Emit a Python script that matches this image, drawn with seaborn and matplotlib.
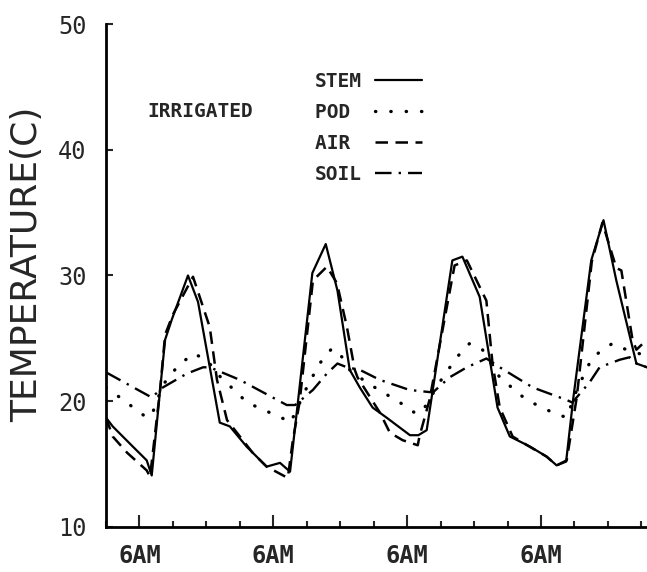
import matplotlib
matplotlib.use("Agg")
import matplotlib.pyplot as plt
import seaborn as sns

# hours from midnight of day 1, temperature in C
stem_hours = [0, 1.2, 4.8, 7.3, 8.2, 9.7, 10.6, 11.8, 14.7, 16.5, 20.4, 22.2,
              25.2, 28.8, 31.2, 33.0, 34.4, 37.0, 39.4, 41.5, 43.7, 45.5, 47.8,
              50.3, 54.5, 56.0, 57.5, 62.1, 63.9, 67.0, 70.2, 72.4, 76.0, 79.0,
              80.8, 82.5, 83.8, 87.0, 89.2, 91.5, 95.1, 97.0]
stem_temp = [18.7, 18.0, 16.4, 15.3, 14.1, 20.9, 24.9, 26.5, 30.0, 27.9, 18.3, 18.0,
             16.4, 14.8, 15.1, 14.4, 19.9, 30.2, 32.5, 28.8, 22.5, 21.1, 19.5,
             18.7, 17.3, 17.3, 17.7, 31.2, 31.5, 28.3, 19.5, 17.2, 16.4, 15.6,
             14.9, 15.2, 20.3, 31.2, 34.4, 29.6, 23.0, 22.7]

air_hours = [0, 1.2, 3.8, 7.3, 7.9, 9.7, 10.6, 12.0, 15.6, 18.6, 19.9, 21.7,
             26.3, 28.8, 32.6, 33.5, 34.7, 37.1, 39.6, 41.4, 43.2, 44.6, 45.1,
             49.1, 50.9, 53.2, 55.9, 56.2, 58.0, 62.5, 64.7, 68.2, 69.3, 70.6,
             72.9, 75.9, 79.0, 80.8, 82.6, 84.4, 87.1, 89.0, 91.5, 92.4, 94.4,
             95.1, 97.0]
air_temp = [18.7, 17.2, 15.9, 14.5, 14.0, 20.9, 25.3, 26.9, 29.9, 25.9, 21.7, 18.5,
            15.9, 14.8, 13.9, 16.9, 19.9, 29.6, 30.7, 29.4, 25.9, 22.5, 21.9,
            19.1, 17.5, 16.9, 16.5, 17.2, 20.1, 30.8, 31.2, 28.0, 23.0, 19.5,
            17.2, 16.4, 15.6, 14.9, 15.3, 20.3, 31.1, 34.2, 30.6, 30.4, 24.9,
            24.1, 24.9]

pod_hours = [0, 2.5, 7.3, 8.2, 10.2, 12.7, 15.6, 18.1, 19.9, 25.3, 26.3, 32.4,
             33.1, 36.0, 38.3, 40.5, 41.9, 43.7, 46.7, 52.7, 55.3, 56.6, 59.8,
             62.9, 65.2, 67.5, 70.6, 75.4, 80.1, 82.6, 84.4, 87.2, 90.8, 93.3,
             97.0]
pod_temp = [21.1, 20.3, 18.7, 18.9, 21.3, 22.7, 23.8, 23.3, 22.2, 19.9, 19.7, 18.5,
            18.3, 21.1, 23.0, 24.2, 23.8, 22.5, 21.5, 19.9, 19.1, 19.1, 21.5,
            23.5, 24.6, 24.1, 21.9, 20.1, 19.1, 18.7, 20.9, 23.5, 24.6, 24.1,
            23.6]

soil_hours = [0, 8.2, 10.2, 14.5, 17.4, 18.6, 24.0, 32.4, 33.9, 37.1, 39.6, 41.5,
              43.2, 45.5, 49.1, 54.4, 58.6, 61.6, 64.7, 68.2, 70.6, 76.5, 82.6,
              83.6, 86.7, 88.5, 92.1, 93.9, 95.1, 97.0]
soil_temp = [22.3, 20.3, 21.1, 22.2, 22.7, 22.7, 21.7, 19.7, 19.7, 20.9, 22.2, 23.0,
             22.7, 22.5, 21.7, 20.9, 20.7, 21.9, 22.7, 23.4, 22.7, 21.1, 20.1,
             19.9, 21.5, 22.7, 23.3, 23.5, 23.0, 22.7]

series_names = ["STEM", "POD", "AIR", "SOIL"]
tick_hours = [6, 30, 54, 78]
tick_labels = ["6AM", "6AM", "6AM", "6AM"]
y_ticks = [10, 20, 30, 40, 50]

sns.set_style("ticks")
plt.rcParams['font.family'] = ['DejaVu Sans Mono', 'DejaVu Sans']

fig = plt.figure(figsize=(6.47, 5.72), dpi=100)
ax = fig.add_axes([106 / 647, 45 / 572, 541 / 647, 503 / 572])

series = [
    (stem_hours, stem_temp, dict(linestyle="-", lw=1.6)),
    (pod_hours, pod_temp, dict(linestyle=(0, (0.1, 4.5)), lw=2.4, dash_capstyle="round")),
    (air_hours, air_temp, dict(linestyle=(0, (5, 3)), lw=1.8)),
    (soil_hours, soil_temp, dict(linestyle=(0, (7, 3, 1, 3)), lw=1.7)),
]
for name, (h, t, style) in zip(series_names, series):
    sns.lineplot(x=h, y=t, ax=ax, color="black", estimator=None,
                 label=name.ljust(4), **style)

ax.set_xlim(0, 97)
ax.set_ylim(10, 50)
ax.set_yticks(y_ticks)
ax.set_yticklabels([str(v) for v in y_ticks], fontsize=17)
ax.set_xticks(tick_hours)
ax.set_xticklabels(tick_labels, fontsize=17, fontweight="bold")
ax.set_xticks(range(0, 97, 6), minor=True)
ax.tick_params(axis="x", which="major", direction="in", length=9, width=1.5, pad=12)
ax.tick_params(axis="x", which="minor", direction="in", length=4, width=1.5)
ax.tick_params(axis="y", direction="in", length=5, width=1.5, pad=14)

ax.set_ylabel("TEMPERATURE(C)", fontsize=26, family="DejaVu Sans")
ax.yaxis.set_label_coords(-0.115, 0.523)

for s in ["top", "right"]:
    ax.spines[s].set_visible(False)
for s in ["left", "bottom"]:
    ax.spines[s].set_linewidth(2)
    ax.spines[s].set_color("black")

ax.text(0.0758, 0.827, "IRRIGATED", transform=ax.transAxes, fontsize=14,
        fontweight="bold", va="center", ha="left")

ax.legend(markerfirst=False, frameon=False, loc="upper left",
          bbox_to_anchor=(0.386, 0.905), borderpad=0, borderaxespad=0,
          handlelength=2.4, handletextpad=0.7, labelspacing=0.62,
          prop=dict(family="DejaVu Sans Mono", weight="bold", size=14))

fig.savefig("out.png", dpi=100)
